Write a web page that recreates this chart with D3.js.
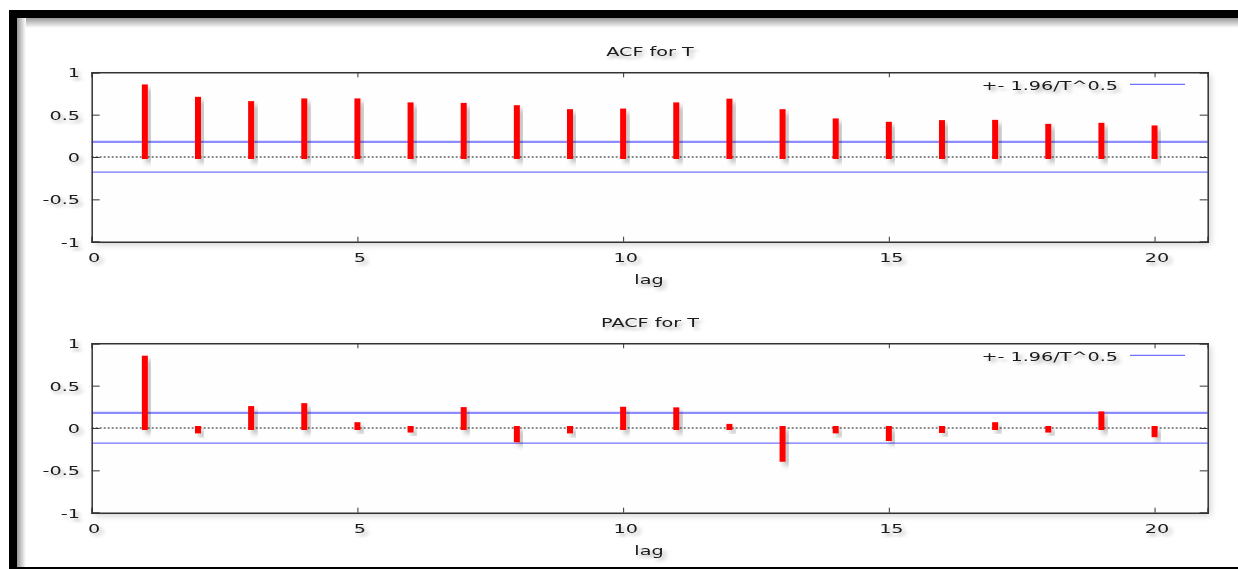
<!DOCTYPE html>
<html><head><meta charset="utf-8">
<script src="https://cdn.jsdelivr.net/npm/d3@7"></script>
<style>html,body{margin:0;padding:0;background:#fff;}svg{display:block;}</style>
</head><body>
<svg id="chart" width="1238" height="569"></svg>
<script>
const lags = [1,2,3,4,5,6,7,8,9,10,11,12,13,14,15,16,17,18,19,20];
const acfValues = [0.833,0.687,0.636,0.668,0.668,0.621,0.615,0.588,0.541,0.548,0.621,0.665,0.541,0.432,0.392,0.412,0.415,0.368,0.380,0.349];
const pacfValues = [0.830,-0.040,0.235,0.270,0.045,-0.030,0.223,-0.145,-0.040,0.227,0.220,0.025,-0.375,-0.040,-0.130,-0.035,0.045,-0.030,0.172,-0.085];
const band = 0.179;
const xTicks = [0,5,10,15,20];
const xTickLabels = ["0","5","10","15","20"];
const yTicks = [-1,-0.5,0,0.5,1];
const yTickLabels = ["-1","-0.5","0","0.5","1"];
const titles = ["ACF for T","PACF for T"];
const xLabel = "lag";
const legendLabel = "+- 1.96/T^0.5";

const svg = d3.select("#chart");
const defs = svg.append("defs");
function shadowFilter(id, dx, dy, sd, op){
  const f = defs.append("filter").attr("id", id).attr("x","-50%").attr("y","-50%").attr("width","200%").attr("height","200%");
  f.append("feGaussianBlur").attr("in","SourceAlpha").attr("stdDeviation",sd).attr("result","b");
  f.append("feOffset").attr("in","b").attr("dx",dx).attr("dy",dy).attr("result","o");
  f.append("feFlood").attr("flood-color","#000").attr("flood-opacity",op).attr("result","c");
  f.append("feComposite").attr("in","c").attr("in2","o").attr("operator","in").attr("result","s");
  const m = f.append("feMerge");
  m.append("feMergeNode").attr("in","s");
  m.append("feMergeNode").attr("in","SourceGraphic");
}
shadowFilter("barShadow", 4, 4, 2.5, 0.28);
shadowFilter("textShadow", 2, 3, 1.8, 0.3);
shadowFilter("frameShadow", 3, 3, 3, 0.18);

const gTop = defs.append("linearGradient").attr("id","gradTop").attr("x1",0).attr("y1",0).attr("x2",0).attr("y2",1);
gTop.append("stop").attr("offset","0").attr("stop-color","#999");
gTop.append("stop").attr("offset","1").attr("stop-color","#fff");
const gLeft = defs.append("linearGradient").attr("id","gradLeft").attr("x1",0).attr("y1",0).attr("x2",1).attr("y2",0);
gLeft.append("stop").attr("offset","0").attr("stop-color","#999");
gLeft.append("stop").attr("offset","1").attr("stop-color","#fff");

// outer frame
svg.append("rect").attr("x",17).attr("y",18).attr("width",1221).attr("height",10).attr("fill","url(#gradTop)");
svg.append("rect").attr("x",17).attr("y",18).attr("width",9).attr("height",549).attr("fill","url(#gradLeft)");
svg.append("rect").attr("x",9).attr("y",10).attr("width",1229).attr("height",8).attr("fill","#000");
svg.append("rect").attr("x",9).attr("y",10).attr("width",8).attr("height",559).attr("fill","#000");
svg.append("rect").attr("x",9).attr("y",567).attr("width",1229).attr("height",2).attr("fill","#000");

const SX = 1.6;
function label(g, x, y, txt, anchor){
  g.append("text")
    .attr("transform", `translate(${x},${y}) scale(${SX},1)`)
    .attr("text-anchor", anchor || "middle")
    .attr("dominant-baseline","central")
    .attr("font-family","DejaVu Sans, sans-serif")
    .attr("font-size", 12)
    .attr("fill","#1a1a1a")
    .attr("filter","url(#textShadow)")
    .text(txt);
}

const x0 = 91.7, x1 = 1207.7;
function panel(top, bottom, values, title, titleY, tickY, lagY){
  const g = svg.append("g");
  const x = d3.scaleLinear().domain([0,21]).range([x0,x1]);
  const y = d3.scaleLinear().domain([-1,1]).range([bottom, top]);

  g.append("rect").attr("x",x0).attr("y",top).attr("width",x1-x0).attr("height",bottom-top)
    .attr("fill","#fefefe").attr("filter","url(#frameShadow)");

  // band lines
  g.append("line").attr("x1",x0).attr("x2",x1).attr("y1",y(band)).attr("y2",y(band))
    .attr("stroke","#8c8cff").attr("stroke-width",2.2);
  g.append("line").attr("x1",x0).attr("x2",x1).attr("y1",y(-band)).attr("y2",y(-band))
    .attr("stroke","#7272ff").attr("stroke-width",1.3);
  // zero line
  g.append("line").attr("x1",x0).attr("x2",x1).attr("y1",y(0)).attr("y2",y(0))
    .attr("stroke","#000").attr("stroke-width",0.9).attr("stroke-dasharray","2,2");

  // bars
  g.selectAll("rect.bar").data(lags.map((l,i)=>({l, v: values[i]}))).join("rect")
    .attr("class","bar")
    .attr("x", d => x(d.l) - 3)
    .attr("width", 6)
    .attr("y", d => Math.min(y(d.v), y(0)) - 2)
    .attr("height", d => Math.abs(y(d.v) - y(0)) + 4)
    .attr("fill","#ff0000")
    .attr("filter","url(#barShadow)");

  // axes with inward ticks
  const axB = d3.axisBottom(x).tickValues(xTicks).tickSize(-5).tickFormat("");
  const axT = d3.axisTop(x).tickValues(xTicks).tickSize(-5).tickFormat("");
  const axL = d3.axisLeft(y).tickValues(yTicks).tickSize(-8).tickFormat("");
  const axR = d3.axisRight(y).tickValues(yTicks).tickSize(-8).tickFormat("");
  [[axB,`translate(0,${bottom})`],[axT,`translate(0,${top})`],[axL,`translate(${x0},0)`],[axR,`translate(${x1},0)`]]
    .forEach(([ax,tr]) => {
      const a = g.append("g").attr("transform",tr).call(ax);
      a.select(".domain").attr("stroke","#333").attr("stroke-width",1.5);
      a.selectAll(".tick line").attr("stroke","#333").attr("stroke-width",1);
    });

  // tick labels
  xTicks.forEach((t,i) => label(g, x(t)+2.5, tickY, xTickLabels[i]));
  yTicks.forEach((t,i) => label(g, 80, y(t)+1, yTickLabels[i], "end"));

  label(g, 650, titleY, title);
  label(g, 649, lagY, xLabel);

  // legend
  const ly = top + 12;
  label(g, 1118, ly + 1.5, legendLabel, "end");
  g.append("line").attr("x1",1130).attr("x2",1185).attr("y1",ly).attr("y2",ly)
    .attr("stroke","#7272ff").attr("stroke-width",1.3);
}

panel(72.3, 241.7, acfValues, titles[0], 51.7, 258.3, 279.5);
panel(343.3, 512.7, pacfValues, titles[1], 322.7, 529.3, 550.7);
</script>
</body></html>
